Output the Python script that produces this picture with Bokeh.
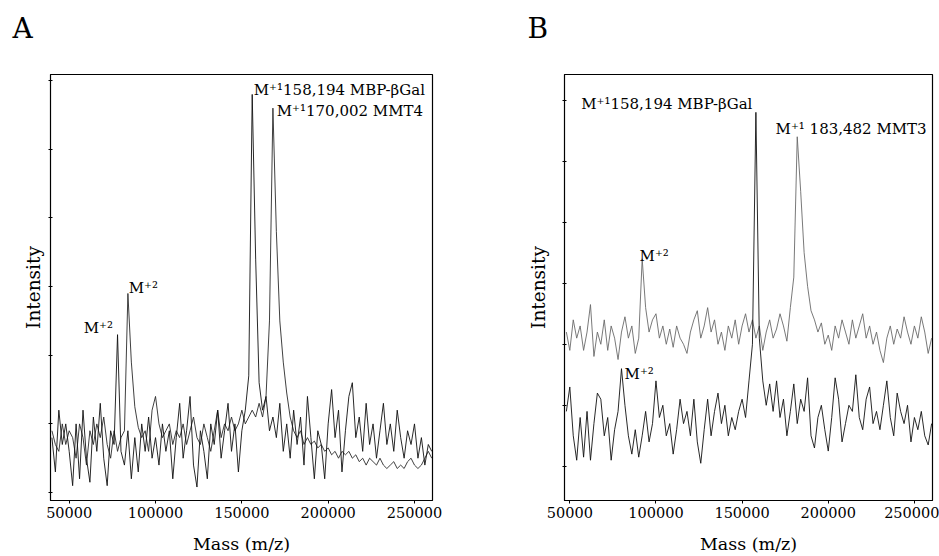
from bokeh.plotting import figure
from bokeh.layouts import row
from bokeh.models import FixedTicker, Range1d, Title
from bokeh.core.properties import value
from bokeh.embed import file_html
from bokeh.resources import INLINE

SERIF = "DejaVu Serif"

# ---------------- data ----------------
mass_a = list(range(40000, 260001, 2000))
mass_b = list(range(48000, 260001, 2000))

# Panel A, MBP-betaGal spectrum (M+1 158,194, M+2 ~79k)
int_a_mbp = [
    8, 3, 12, 7, 10, 6, 1, 10, 2, 12,
    5, 1.5, 11, 6, 13, 5, 1, 9, 7, 23,
    6, 4, 9, 2, 8, 3, 10, 6, 11, 5,
    8, 4, 10, 6, 9, 2, 8, 13, 5, 9,
    14, 4, 0.8, 9, 6, 2, 10, 7, 12, 5,
    9, 13, 6, 10, 3, 9, 12, 17, 58, 34,
    16, 12, 14, 9, 11, 8, 13, 6, 10, 5,
    12, 7, 11, 4, 14, 8, 2, 9, 7, 2,
    10, 15, 8, 12, 3, 9, 14, 16, 8, 11,
    6, 13, 7, 10, 5, 9, 13, 7, 10, 6,
    12, 8, 5, 9, 7, 10, 5, 8, 4, 7,
    6,
]
# Panel A, MMT4 spectrum (M+1 170,002, M+2 ~85k)
int_a_mmt4 = [
    9, 7, 6, 10, 7, 9, 8, 5, 10, 8,
    4, 9, 7, 10, 8, 11, 7, 5, 9, 6,
    8, 9, 29, 19, 12.5, 9.5, 8, 9, 6, 12,
    14, 10, 8, 9, 10, 7, 9, 8, 10, 7,
    9, 11, 8, 7, 10, 8, 6, 9, 12, 8,
    10, 9, 11, 9, 10, 12, 10, 11, 12, 11,
    13, 11, 14, 25, 56, 38, 25, 19, 14.5, 11,
    9, 8, 9, 7, 8, 7, 7.5, 6.5, 7, 6,
    6.5, 5.5, 6, 5, 6, 5.5, 6, 5, 5.5, 4.5,
    5, 4, 5, 4.5, 4, 5, 4, 3.5, 4, 4.5,
    3.5, 4, 3.5, 4.5, 5, 4, 3.5, 4, 5, 6,
    5,
]
# Panel B, MBP-betaGal spectrum (lower trace)
int_b_mbp = [
    9, 13, 5, 1, 8, 1.5, 9, 1, 7, 12,
    11, 5, 8, 1, 6, 9, 16, 10, 5, 2,
    6, 1.5, 5, 9, 4, 7, 14, 8, 10, 5,
    7, 2, 6, 11, 7, 9, 5, 11, 4, 0.5,
    6, 11, 5, 9, 12, 7, 10, 5, 8, 6,
    9, 11, 8, 14, 20, 58, 21, 14, 10, 13.5,
    9, 14, 8, 11, 5, 9, 13.5, 7, 11, 9,
    14.5, 5, 3, 8, 10, 6, 2.5, 8, 14.5, 11,
    4, 7, 10, 9, 15, 8, 6, 11, 13, 7,
    9, 6, 10, 14, 8, 5, 12, 9, 7, 10,
    4, 8, 6, 9, 5, 3.5, 7,
]
# Panel B, MMT3 spectrum (upper trace, M+1 183,482)
int_b_mmt3 = [
    22, 19, 24, 21, 23, 19, 22, 26.5, 18, 22,
    20, 24, 19, 23, 21, 17.5, 22, 24.5, 21, 23,
    18.5, 21, 34, 26, 22, 24, 25, 21, 23, 20,
    22.5, 19.5, 23, 21, 20, 18.5, 22, 24, 25.5, 21,
    23, 26, 22, 24, 20, 22, 19, 23, 21, 24,
    20, 23, 25, 22, 24, 21, 23, 19, 22, 24,
    21, 22.5, 25, 23, 20.5, 26, 31, 54, 45, 35,
    29.5, 25.5, 24, 22, 23.5, 20, 21.5, 19, 23, 21,
    24, 22, 20, 24, 21, 23, 25, 21, 23, 20,
    22, 19, 17, 21, 23, 20, 22.5, 21, 24.5, 22,
    20, 23, 21, 24.5, 22, 18.5, 21,
]

x_ticks = [50000, 100000, 150000, 200000, 250000]
x_tick_labels = ["50000", "100000", "150000", "200000", "250000"]
y_ticks = [0, 10, 20, 30, 40, 50, 60]

# peak annotations: (mass, intensity, text)
ann_a = [
    (156900, 58.6, "M\u207a\u00b9158,194 MBP-\u03b2Gal"),
    (170200, 55.6, "M\u207a\u00b9170,002 MMT4"),
    (58400, 24.0, "M\u207a\u00b2"),
    (84500, 29.8, "M\u207a\u00b2"),
]
ann_b = [
    (56600, 59.4, "M\u207a\u00b9158,194 MBP-\u03b2Gal"),
    (169400, 55.3, "M\u207a\u00b9 183,482 MMT3"),
    (90500, 34.5, "M\u207a\u00b2"),
    (81800, 15.2, "M\u207a\u00b2"),
]


def panel(letter, x_range, y_range, width, border_left, border_right,
          ylab_standoff, letter_offset):
    p = figure(width=width, height=556,
               x_range=Range1d(*x_range), y_range=Range1d(*y_range),
               output_backend="svg", toolbar_location=None,
               min_border_left=border_left, min_border_right=border_right,
               min_border_top=74, min_border_bottom=55)
    p.title.visible = False
    # spacer between frame and the panel letter, then the letter itself
    p.add_layout(Title(text="\u00a0", text_font_size="21px", standoff=0), "above")
    p.add_layout(Title(text=letter, text_font=SERIF, text_font_size="28px",
                       text_font_style="normal", text_color="black",
                       align="left", offset=letter_offset), "above")
    p.grid.visible = False
    p.outline_line_color = "black"
    p.outline_line_width = 1.2
    p.background_fill_color = "white"
    p.border_fill_color = "white"

    xa = p.xaxis[0]
    xa.ticker = FixedTicker(ticks=x_ticks)
    xa.major_label_overrides = dict(zip(x_ticks, x_tick_labels))
    xa.minor_tick_line_color = None
    xa.major_tick_out = 3
    xa.major_tick_in = 0
    xa.major_label_standoff = 3
    xa.major_label_text_font = SERIF
    xa.major_label_text_font_size = "14.5px"
    xa.major_label_text_color = "black"
    xa.axis_label = "Mass (m/z)"
    xa.axis_label_text_font = SERIF
    xa.axis_label_text_font_size = "17.5px"
    xa.axis_label_text_font_style = "normal"
    xa.axis_label_text_color = "black"
    xa.axis_label_standoff = 13
    xa.axis_line_color = "black"

    ya = p.yaxis[0]
    ya.ticker = FixedTicker(ticks=y_ticks)
    ya.major_label_overrides = {t: "" for t in y_ticks}
    ya.major_label_text_font_size = "1px"
    ya.major_label_standoff = 0
    ya.minor_tick_line_color = None
    ya.major_tick_out = 2
    ya.major_tick_in = 2
    ya.axis_label = "Intensity"
    ya.axis_label_text_font = SERIF
    ya.axis_label_text_font_size = "18.5px"
    ya.axis_label_text_font_style = "normal"
    ya.axis_label_text_color = "black"
    ya.axis_label_standoff = ylab_standoff
    ya.axis_line_color = "black"
    return p


def annotate(p, ann):
    p.text(x=[a[0] for a in ann], y=[a[1] for a in ann],
           text=[a[2] for a in ann],
           text_font=value(SERIF), text_font_size=value("15px"),
           text_color="black", text_baseline="alphabetic", text_align="left")


pa = panel("A", (39170, 260430), (-1.16, 60.9), 479, 50, 47, 5, -38)
pa.line(mass_a, int_a_mmt4, line_color="#2a2a2a", line_width=0.9)
pa.line(mass_a, int_a_mbp, line_color="#111111", line_width=0.9)
annotate(pa, ann_a)

pb = panel("B", (46920, 260500), (-5.6, 64.2), 460, 85, 7, 14, -37)
pb.line(mass_b, int_b_mmt3, line_color="#6a6a6a", line_width=0.9)
pb.line(mass_b, int_b_mbp, line_color="#111111", line_width=0.9)
annotate(pb, ann_b)

layout = row(pa, pb)
open("out.html", "w").write(file_html(layout, INLINE))
